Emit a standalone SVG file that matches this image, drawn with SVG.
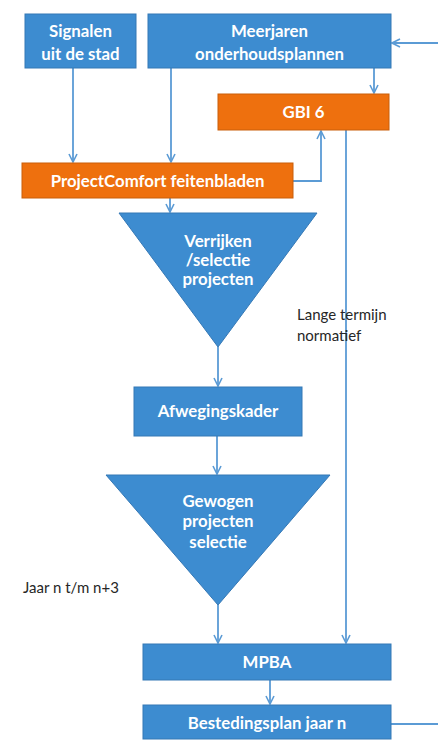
<svg xmlns="http://www.w3.org/2000/svg" width="438" height="740" viewBox="0 0 438 740">
<defs>
<marker id="arr" viewBox="0 0 10 10" refX="9" refY="5" markerWidth="10" markerHeight="10" markerUnits="userSpaceOnUse" orient="auto">
<path d="M1,1 L9,5 L1,9" fill="none" stroke="#5B9BD5" stroke-width="1.6"/>
</marker>
<style>
.blue{fill:#3D8CD0;stroke:#3578B5;stroke-width:1}
.orange{fill:#EE700E;stroke:#C95E0A;stroke-width:1}
.lbl{font-family:Lato,"Open Sans",sans-serif;font-weight:bold;font-size:16.8px;fill:#ffffff;text-anchor:middle}
.note{font-family:Lato,"Open Sans",sans-serif;font-size:15px;fill:#262626}
.conn{fill:none;stroke:#5B9BD5;stroke-width:1.8}
</style>
</defs>
<rect width="438" height="740" fill="#ffffff"/>
<g id="connectors">
<path class="conn" d="M438,43 L392,43" marker-end="url(#arr)"/>
<path class="conn" d="M73,68 L73,162" marker-end="url(#arr)"/>
<path class="conn" d="M171,68 L171,162" marker-end="url(#arr)"/>
<path class="conn" d="M374,68 L374,93" marker-end="url(#arr)"/>
<path class="conn" d="M293,181 L321,181 L321,131" marker-end="url(#arr)"/>
<path class="conn" d="M346,130 L346,643" marker-end="url(#arr)"/>
<path class="conn" d="M170,198 L170,212" marker-end="url(#arr)"/>
<path class="conn" d="M218,347 L218,386" marker-end="url(#arr)"/>
<path class="conn" d="M217,436 L217,474" marker-end="url(#arr)"/>
<path class="conn" d="M218,605 L218,643" marker-end="url(#arr)"/>
<path class="conn" d="M270,680 L270,704" marker-end="url(#arr)"/>
<path class="conn" d="M391,724 L438,724"/>
</g>
<g id="signalen">
<rect class="blue" x="25" y="14" width="111" height="54"/>
<text class="lbl" x="80.5" y="37">Signalen</text>
<text class="lbl" x="80.5" y="60">uit de stad</text>
</g>
<g id="meerjaren">
<rect class="blue" x="148" y="14" width="243" height="54"/>
<text class="lbl" x="269.5" y="37">Meerjaren</text>
<text class="lbl" x="269.5" y="60">onderhoudsplannen</text>
</g>
<g id="gbi6">
<rect class="orange" x="218" y="94" width="171" height="36"/>
<text class="lbl" x="303.5" y="118">GBI 6</text>
</g>
<g id="projectcomfort">
<rect class="orange" x="22" y="163" width="271" height="35"/>
<text class="lbl" x="157.5" y="187">ProjectComfort feitenbladen</text>
</g>
<g id="verrijken">
<polygon class="blue" points="119,213 317,213 218,347"/>
<text class="lbl" x="218" y="247">Verrijken</text>
<text class="lbl" x="218" y="266">/selectie</text>
<text class="lbl" x="218" y="285">projecten</text>
</g>
<g id="afwegingskader">
<rect class="blue" x="134" y="387" width="168" height="49"/>
<text class="lbl" x="218" y="417">Afwegingskader</text>
</g>
<g id="gewogen">
<polygon class="blue" points="106,475 330,475 218,605"/>
<text class="lbl" x="218" y="507">Gewogen</text>
<text class="lbl" x="218" y="527">projecten</text>
<text class="lbl" x="218" y="548">selectie</text>
</g>
<g id="mpba">
<rect class="blue" x="143" y="644" width="248" height="36"/>
<text class="lbl" x="267" y="668">MPBA</text>
</g>
<g id="bestedingsplan">
<rect class="blue" x="143" y="705" width="248" height="34"/>
<text class="lbl" x="267" y="729">Bestedingsplan jaar n</text>
</g>
<g id="notes">
<text class="note" x="297" y="320">Lange termijn</text>
<text class="note" x="297" y="341">normatief</text>
<text class="note" x="23" y="593">Jaar n t/m n+3</text>
</g>
</svg>
